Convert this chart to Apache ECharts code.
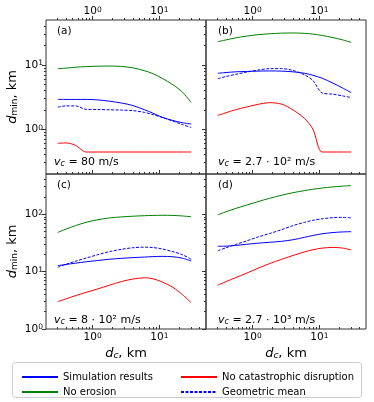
<!DOCTYPE html>
<html>
<head>
<meta charset="utf-8">
<script src="https://cdn.jsdelivr.net/npm/echarts@6/dist/echarts.min.js"></script>
<style>
  html, body { margin: 0; padding: 0; background: #fff; }
  #chart { width: 374px; height: 402px; }
</style>
</head>
<body>
<div id="chart"></div>
<script>
// d_c, km (shared x samples)
var dc = [0.3, 0.4, 0.55, 0.8, 1.2, 1.8, 2.7, 4, 6, 8, 11, 16, 22, 30];

// (a) v_c = 80 m/s
var simA        = [2.9, 2.9, 2.9, 2.9, 2.85, 2.72, 2.55, 2.33, 2.0, 1.77, 1.53, 1.36, 1.26, 1.2];
var noErosionA  = [8.7, 8.9, 9.2, 9.4, 9.55, 9.6, 9.45, 9.0, 8.1, 7.3, 6.2, 4.9, 3.8, 2.6];
var noDisruptA  = [0.6, 0.61, 0.56, 0.44, 0.44, 0.44, 0.44, 0.44, 0.44, 0.44, 0.44, 0.44, 0.44, 0.44];
var geoMeanA    = [2.2, 2.3, 2.3, 2.03, 2.02, 2.0, 1.98, 1.94, 1.82, 1.68, 1.52, 1.33, 1.18, 1.06];

// (b) v_c = 2.7e2 m/s
var simB        = [7.4, 7.6, 7.8, 7.9, 8.0, 8.05, 8.0, 7.8, 7.4, 6.9, 6.2, 5.2, 4.4, 3.7];
var noErosionB  = [23, 24.5, 26.3, 28, 29.5, 30.5, 31.2, 31.4, 31, 30.2, 28.7, 26.6, 24.6, 22.4];
var noDisruptB  = [1.63, 1.8, 2.0, 2.2, 2.43, 2.58, 2.45, 2.0, 1.46, 1.0, 0.44, 0.44, 0.44, 0.44];
var geoMeanB    = [6.1, 6.6, 7.1, 7.7, 8.3, 8.75, 8.75, 8.2, 7.0, 5.7, 3.66, 3.5, 3.3, 3.1];

// (c) v_c = 8e2 m/s
var simC        = [12.7, 13.3, 14, 14.8, 15.6, 16.4, 17, 17.5, 17.9, 18.2, 18.4, 18.1, 17.1, 15.3];
var noErosionC  = [48, 55, 63, 72, 80, 86, 89.5, 92, 94, 95, 95.5, 95, 93, 90];
var noDisruptC  = [3.0, 3.35, 3.8, 4.35, 5.0, 5.8, 6.7, 7.4, 7.8, 7.5, 6.6, 5.3, 4.0, 2.87];
var geoMeanC    = [11.9, 13.4, 15.1, 17.2, 19.7, 22.3, 24.4, 26, 26.6, 26.2, 24.8, 22.2, 19.7, 16.4];

// (d) v_c = 2.7e3 m/s
var simD        = [27.6, 27.7, 28.5, 29.8, 31.2, 32.4, 33.6, 35.8, 39.5, 42.5, 45.5, 47.8, 49, 49.5];
var noErosionD  = [97, 110, 125, 143, 165, 189, 213, 236, 257, 271, 285, 298, 307, 314];
var noDisruptD  = [5.8, 6.7, 7.8, 9.3, 11.4, 13.8, 16.3, 19, 22, 24, 25.6, 26.4, 25.7, 23.8];
var geoMeanD    = [23, 26, 29.5, 34, 40, 46, 53.5, 63, 72, 78, 83, 87, 88, 86];

var panelTags = ['(a)', '(b)', '(c)', '(d)'];
var speedTags = ['= 80 m/s', '= 2.7 \u00b7 10\u00b2 m/s', '= 8 \u00b7 10\u00b2 m/s', '= 2.7 \u00b7 10\u00b3 m/s'];
var seriesNames = ['Simulation results', 'No erosion', 'No catastrophic disruption', 'Geometric mean'];

var X_MIN = 0.2, X_MAX = 50;
var Y_RANGE = [[0.2, 50], [0.2, 50], [1, 500], [1, 500]];

var FONT = 'DejaVu Sans';
var AXIS_COLOR = '#333';

var grids = [
    { left: 46, top: 20, width: 160, height: 154 },
    { left: 206, top: 20, width: 160, height: 154 },
    { left: 46, top: 174, width: 160, height: 155 },
    { left: 206, top: 174, width: 160, height: 155 }
];
grids.forEach(function (g) {
    g.show = true;
    g.borderColor = AXIS_COLOR;
    g.borderWidth = 1;
    g.backgroundColor = 'transparent';
});

function majors(lo, hi) {
    var out = [];
    for (var k = -1; k <= 3; k++) {
        var v = Math.pow(10, k);
        if (v >= lo && v <= hi) out.push(v);
    }
    return out;
}
function minors(lo, hi) {
    var out = [];
    for (var k = -1; k <= 3; k++) {
        for (var m = 2; m <= 9; m++) {
            var v = m * Math.pow(10, k);
            if (v > lo && v < hi) out.push(v);
        }
    }
    return out;
}
function pow10(v) {
    var e = Math.round(Math.log(v) / Math.LN10);
    return '10{s|' + e + '}';
}
var tickRich = {
    s: { fontSize: 7.5, fontFamily: FONT, color: '#000', verticalAlign: 'top', lineHeight: 7, padding: [0, 0, 3, 0] }
};

var xAxes = [], yAxes = [];
function addX(gi, pos, values, len, inside, labels, name) {
    var ax = {
        gridIndex: gi, type: 'log', logBase: 10, min: X_MIN, max: X_MAX, position: pos,
        axisLine: { show: false, onZero: false }, splitLine: { show: false },
        axisTick: { show: true, customValues: values, length: len, inside: inside, lineStyle: { color: AXIS_COLOR, width: 1 } },
        axisLabel: labels ? { show: true, customValues: labels, formatter: pow10, fontSize: 10.5, fontFamily: FONT, color: '#000', margin: 3, rich: tickRich } : { show: false }
    };
    if (name) {
        ax.name = '{d|d}{s|c}{n|, km}';
        ax.nameLocation = 'middle';
        ax.nameGap = 18;
        ax.nameTextStyle = {
            fontSize: 13, fontFamily: FONT, color: '#000',
            rich: {
                d: { fontSize: 13, fontFamily: FONT, fontStyle: 'italic', color: '#000' },
                s: { fontSize: 9, fontFamily: FONT, fontStyle: 'italic', color: '#000', verticalAlign: 'bottom', lineHeight: 9 },
                n: { fontSize: 13, fontFamily: FONT, color: '#000' }
            }
        };
    }
    xAxes.push(ax);
    return xAxes.length - 1;
}
function addY(gi, values, len, labels, name) {
    var r = Y_RANGE[gi];
    var ax = {
        gridIndex: gi, type: 'log', logBase: 10, min: r[0], max: r[1], position: 'left',
        axisLine: { show: false, onZero: false }, splitLine: { show: false },
        axisTick: { show: true, customValues: values, length: len, inside: false, lineStyle: { color: AXIS_COLOR, width: 1 } },
        axisLabel: labels ? { show: true, customValues: labels, formatter: pow10, fontSize: 10.5, fontFamily: FONT, color: '#000', margin: 3, rich: tickRich } : { show: false }
    };
    if (name) {
        ax.name = '{d|d}{s|min}{n|, km}';
        ax.nameLocation = 'middle';
        ax.nameGap = 27;
        ax.nameRotate = 90;
        ax.nameTextStyle = {
            fontSize: 13, fontFamily: FONT, color: '#000',
            rich: {
                d: { fontSize: 13, fontFamily: FONT, fontStyle: 'italic', color: '#000' },
                s: { fontSize: 9, fontFamily: FONT, color: '#000', verticalAlign: 'bottom', lineHeight: 9 },
                n: { fontSize: 13, fontFamily: FONT, color: '#000' }
            }
        };
    }
    yAxes.push(ax);
    return yAxes.length - 1;
}

var mainX = [], mainY = [];
for (var gi = 0; gi < 4; gi++) {
    var isTop = gi < 2;
    var isLeft = gi % 2 === 0;
    var xMaj = majors(X_MIN, X_MAX), xMin = minors(X_MIN, X_MAX);
    if (isTop) {
        mainX.push(addX(gi, 'top', xMaj, 4, false, xMaj, false));
        addX(gi, 'top', xMin, 2, false, null, false);
        addX(gi, 'bottom', xMaj, 4, true, null, false);
        addX(gi, 'bottom', xMin, 2, true, null, false);
    } else {
        mainX.push(addX(gi, 'bottom', xMaj, 4, true, xMaj, true));
        addX(gi, 'bottom', xMin, 2, true, null, false);
    }
    var yr = Y_RANGE[gi];
    var yMaj = majors(yr[0], yr[1]), yMin = minors(yr[0], yr[1]);
    mainY.push(addY(gi, yMaj, 4, isLeft ? yMaj : null, isLeft));
    addY(gi, yMin, 2, null, false);
}

var panelData = [
    [simA, noErosionA, noDisruptA, geoMeanA],
    [simB, noErosionB, noDisruptB, geoMeanB],
    [simC, noErosionC, noDisruptC, geoMeanC],
    [simD, noErosionD, noDisruptD, geoMeanD]
];
var colors = ['#0000ff', '#008000', '#ff0000', '#0000ff'];

var series = [];
panelData.forEach(function (arrs, gi) {
    arrs.forEach(function (vals, si) {
        series.push({
            name: seriesNames[si],
            type: 'line',
            xAxisIndex: mainX[gi],
            yAxisIndex: mainY[gi],
            data: dc.map(function (x, i) { return [x, vals[i]]; }),
            symbol: 'none',
            smooth: 0.3,
            lineStyle: { color: colors[si], width: 1, type: si === 3 ? [3, 1.5] : 'solid' },
            itemStyle: { color: colors[si] },
            z: 3
        });
    });
});

var graphics = [];
var tagPos = [[57, 31], [218, 31], [57, 185], [218, 185]];
var speedPos = [[54, 162], [218, 162], [54, 320], [218, 320]];
panelTags.forEach(function (t, i) {
    graphics.push({
        type: 'text', x: tagPos[i][0], y: tagPos[i][1],
        style: { text: t, fontSize: 10.5, fontFamily: FONT, fill: '#000', verticalAlign: 'middle' }
    });
    graphics.push({
        type: 'text', x: speedPos[i][0], y: speedPos[i][1],
        style: {
            text: '{v|v}{s|c}{n| ' + speedTags[i] + '}',
            fontSize: 11, fontFamily: FONT, fill: '#000', verticalAlign: 'middle',
            rich: {
                v: { fontSize: 11, fontFamily: FONT, fontStyle: 'italic', fill: '#000' },
                s: { fontSize: 8, fontFamily: FONT, fontStyle: 'italic', fill: '#000', verticalAlign: 'bottom', lineHeight: 8 },
                n: { fontSize: 11, fontFamily: FONT, fill: '#000' }
            }
        }
    });
});
graphics.push({
    type: 'rect', z: 0,
    shape: { x: 12.5, y: 362.5, width: 349, height: 35, r: 3 },
    style: { fill: '#fff', stroke: '#cccccc', lineWidth: 1 }
});

function legendAt(x, names) {
    return {
        z: 10, orient: 'vertical',
        left: x, top: 367,
        itemWidth: 36, itemHeight: 10, itemGap: 5,
        data: names,
        itemStyle: { color: 'rgba(0,0,0,0)', borderWidth: 0, opacity: 0 },
        textStyle: { fontSize: 10, fontFamily: FONT, color: '#000', lineHeight: 10 },
        selectedMode: false
    };
}

var chart = echarts.init(document.getElementById('chart'), null, { renderer: 'canvas' });
chart.setOption({
    animation: false,
    backgroundColor: '#fff',
    textStyle: { fontFamily: FONT },
    grid: grids,
    xAxis: xAxes,
    yAxis: yAxes,
    legend: [
        legendAt(16, ['Simulation results', 'No erosion']),
        legendAt(175, ['No catastrophic disruption', 'Geometric mean'])
    ],
    graphic: graphics,
    series: series
});
</script>
</body>
</html>
